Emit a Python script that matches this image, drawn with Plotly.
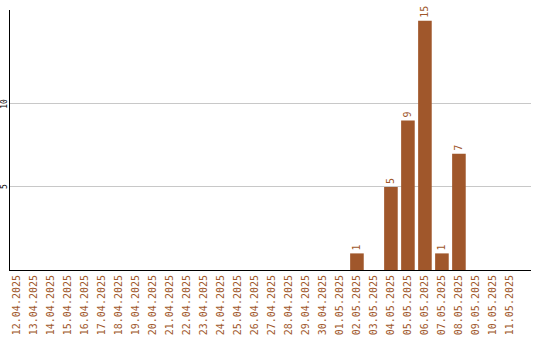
import plotly.graph_objects as go

dates = ["12.04.2025","13.04.2025","14.04.2025","15.04.2025","16.04.2025","17.04.2025",
         "18.04.2025","19.04.2025","20.04.2025","21.04.2025","22.04.2025","23.04.2025",
         "24.04.2025","25.04.2025","26.04.2025","27.04.2025","28.04.2025","29.04.2025",
         "30.04.2025","01.05.2025","02.05.2025","03.05.2025","04.05.2025","05.05.2025",
         "06.05.2025","07.05.2025","08.05.2025","09.05.2025","10.05.2025","11.05.2025"]
values = [0,0,0,0,0,0,0,0,0,0,0,0,0,0,0,0,0,0,0,0,1,0,5,9,15,1,7,0,0,0]
labels = [str(v) if v else "" for v in values]
ytick_vals = [5, 10]

color = "#A0572B"
fig = go.Figure(go.Bar(
    x=dates, y=values, marker_color=color, marker_line_width=0,
    text=labels, textposition="outside", textangle=-90,
    textfont=dict(family="DejaVu Sans Mono", size=10, color=color),
    cliponaxis=False, width=0.8,
))
fig.update_layout(
    width=540, height=340, margin=dict(l=10, r=9, t=10, b=70),
    plot_bgcolor="white", paper_bgcolor="white", showlegend=False,
    xaxis=dict(type="category", range=[-0.41, 30.24], tickangle=-90, showline=True,
               linecolor="black", linewidth=1,
               tickfont=dict(family="DejaVu Sans Mono", size=10, color=color), ticks="",
               showgrid=False, automargin=False),
    yaxis=dict(range=[0, 15.65], tickvals=ytick_vals, tickangle=-90, showline=True,
               linecolor="black", linewidth=1, gridcolor="#c8c8c8", zeroline=False,
               showticklabels=False, ticks="", automargin=False),
)
for v in ytick_vals:
    fig.add_annotation(x=0, xref="paper", xshift=-5, xanchor="center", y=v, yref="y",
                       yanchor="middle", text=str(v), textangle=-90, showarrow=False,
                       font=dict(family="DejaVu Sans Mono", size=8, color="black"))
fig.write_html("out.html")
